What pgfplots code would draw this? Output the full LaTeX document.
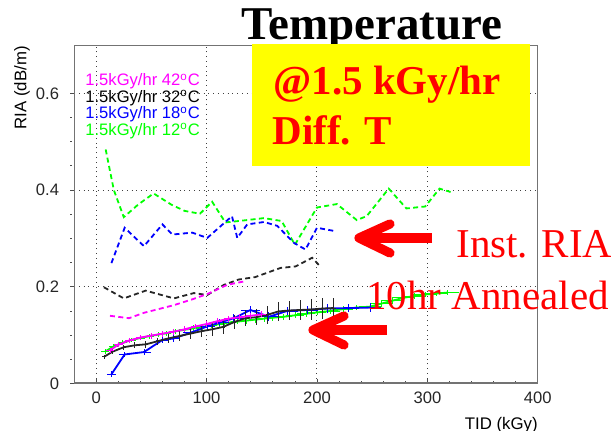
\documentclass[border=0pt]{standalone}
\usepackage{pgfplots}
\pgfplotsset{compat=1.18}
\usepackage{pgfplotstable}
\usepackage{fontspec}
\setmainfont{Liberation Sans}
\newfontfamily\timesf{Liberation Serif}

\definecolor{rgreen}{RGB}{0,255,0}
\definecolor{rblue}{RGB}{0,0,255}
\definecolor{rmag}{RGB}{255,0,255}
\definecolor{rred}{RGB}{255,0,0}
\definecolor{ryellow}{RGB}{255,255,0}

% instantaneous RIA (dashed)
\pgfplotstableread{
x y
8.6 0.484
16 0.400
25 0.344
38 0.370
52 0.393
68 0.370
80 0.357
94 0.351
105 0.376
117 0.333
133 0.337
152 0.342
168 0.336
180 0.287
200 0.364
218 0.371
236 0.338
245 0.346
265 0.403
281 0.362
298 0.366
311 0.403
321 0.396
}\greeninst

\pgfplotstableread{
x y
13.8 0.249
25.8 0.322
43.3 0.284
60 0.329
69 0.308
87 0.312
100.6 0.301
123 0.346
127.8 0.301
136.8 0.329
152 0.334
164 0.326
179 0.291
189.6 0.277
200 0.322
216.7 0.315
}\blueinst

\pgfplotstableread{
x y
7 0.199
25 0.176
44.8 0.192
70.4 0.176
88.5 0.187
100.6 0.183
115.7 0.204
129 0.215
144 0.220
167 0.239
180.5 0.242
195.6 0.260
203 0.242
}\blackinst

\pgfplotstableread{
x y
12.5 0.140
29.7 0.135
43 0.146
70.4 0.162
87 0.174
100.6 0.185
118.7 0.204
133.8 0.211
}\maginst

% 10 hr annealed (solid, with errors)
\pgfplotstableread{
x y ex ey
8 0.066 4 0.005
16 0.077 4 0.005
24 0.084 4 0.005
32 0.090 4 0.005
40 0.094 4 0.005
48 0.098 4 0.005
56 0.101 4 0.005
64 0.104 4 0.005
72 0.108 4 0.005
80 0.111 5 0.006
88 0.114 5 0.006
96 0.117 5 0.006
104 0.120 5 0.006
112 0.123 5 0.006
120 0.126 6 0.006
128 0.128 6 0.006
136 0.130 6 0.006
144 0.132 6 0.006
152 0.134 6 0.006
160 0.136 7 0.006
170 0.138 7 0.006
180 0.141 8 0.006
190 0.144 8 0.006
200 0.147 8 0.006
212 0.150 9 0.006
224 0.154 9 0.006
236 0.157 10 0.006
248 0.159 10 0.006
258 0.165 10 0.006
268 0.171 10 0.006
278 0.177 10 0.006
288 0.181 10 0.006
298 0.184 11 0.006
308 0.186 11 0.006
318 0.188 11 0.006
}\greenann

\pgfplotstableread{
x y ex ey
13.8 0.019 4 0.006
25.8 0.060 5 0.006
43.3 0.065 6 0.006
60 0.090 6 0.006
70 0.093 6 0.007
85.5 0.105 7 0.007
100.6 0.118 7 0.007
112 0.126 8 0.008
124.7 0.135 9 0.008
139.8 0.152 9 0.008
156.4 0.138 9 0.009
173 0.150 10 0.009
191 0.152 10 0.009
209 0.155 10 0.009
228 0.156 10 0.009
248 0.157 10 0.009
}\blueann

\pgfplotstableread{
x y ex ey
7 0.055 2 0.004
15 0.066 2 0.005
25 0.075 2 0.005
35 0.079 2 0.006
45 0.081 2 0.007
55 0.087 2 0.008
65 0.093 2 0.009
75 0.098 2 0.010
85 0.103 2 0.011
95 0.108 2 0.012
105 0.112 2 0.013
115 0.117 2 0.014
125 0.127 2 0.015
135 0.135 2 0.016
145 0.137 2 0.017
155 0.142 2 0.018
165 0.149 2 0.019
175 0.151 2 0.020
185 0.152 2 0.020
195 0.153 2 0.021
205 0.155 2 0.021
215 0.156 2 0.021
}\blackann

\pgfplotstableread{
x y ex ey
12.5 0.069 4 0.005
20 0.080 4 0.005
30 0.089 4 0.005
40 0.095 4 0.006
50 0.099 4 0.006
60 0.103 4 0.006
70 0.107 4 0.006
80 0.112 4 0.006
90 0.118 4 0.006
100 0.123 4 0.006
110 0.129 4 0.006
120 0.134 4 0.006
130 0.137 4 0.006
140 0.140 4 0.006
150 0.143 4 0.006
}\magann

\begin{document}
\begin{tikzpicture}
\useasboundingbox (0,0) rectangle (305.5pt,215.5pt);

% title, partly hidden by the yellow box
\begin{scope}[x=0.5pt,y=-0.5pt,yshift=215.5pt]
\node[anchor=base, inner sep=0] at (372,39.5) {\timesf\bfseries\fontsize{23.5}{26}\selectfont Temperature};
\end{scope}

\begin{axis}[
    scale only axis,
    width=231.85pt, height=169.25pt,
    at={(37.05pt,23.75pt)}, anchor=south west,
    xmin=-20, xmax=400, ymin=0, ymax=0.7,
    xtick={0,100,200,300,400},
    ytick={0,0.2,0.4,0.6},
    minor x tick num=4, minor y tick num=3,
    tick pos=left,
    tick align=inside,
    major tick length=2pt, minor tick length=1.2pt,
    y tick style={xshift=-2pt},
    every tick/.style={black!70, line width=0.4pt},
    grid=major,
    grid style={dotted, black!75, line width=0.5pt},
    axis line style={black!55, line width=0.5pt},
    tick label style={font=\fontsize{8.3}{10}\selectfont, text=black!85},
    /pgf/number format/assume math mode=true,
    yticklabel style={xshift=-4pt},
    xticklabel style={yshift=-0.5pt},
    error bars/error bar style={line width=0.4pt},
]
% instantaneous
\addplot[rgreen, line width=0.9pt, dash pattern=on 2.5pt off 1.7pt] table[x=x,y=y] {\greeninst};
\addplot[rblue, line width=0.9pt, dash pattern=on 2.5pt off 1.7pt] table[x=x,y=y] {\blueinst};
\addplot[black!85, line width=0.9pt, dash pattern=on 2.5pt off 1.7pt] table[x=x,y=y] {\blackinst};
\addplot[rmag, line width=0.9pt, dash pattern=on 2.5pt off 1.7pt] table[x=x,y=y] {\maginst};
% annealed
\addplot[rgreen, line width=0.9pt, mark=none,
    error bars/.cd, x dir=both, x explicit, y dir=both, y explicit, error mark=none]
    table[x=x,y=y,x error=ex,y error=ey] {\greenann};
\addplot[rblue, line width=0.9pt, mark=none,
    error bars/.cd, x dir=both, x explicit, y dir=both, y explicit, error mark=none]
    table[x=x,y=y,x error=ex,y error=ey] {\blueann};
\addplot[black!85, line width=0.9pt, mark=none,
    error bars/.cd, x dir=both, x explicit, y dir=both, y explicit, error mark=none]
    table[x=x,y=y,x error=ex,y error=ey] {\blackann};
\addplot[rmag, line width=0.9pt, mark=none,
    error bars/.cd, x dir=both, x explicit, y dir=both, y explicit, error mark=none]
    table[x=x,y=y,x error=ex,y error=ey] {\magann};
\draw[black!55, line width=1pt] (rel axis cs:0,1) -- (rel axis cs:0,0) -- (rel axis cs:1,0);
\end{axis}

\begin{scope}[x=0.5pt,y=-0.5pt,yshift=215.5pt]
% axis titles
\node[rotate=90, anchor=east, inner sep=0] at (22,46) {\fontsize{8.4}{10}\selectfont RIA (dB/m)};
\node[anchor=north east, inner sep=0] at (538,417) {\fontsize{8.4}{10}\selectfont TID (kGy)};
% legend text
\begin{scope}[every node/.style={anchor=base west, inner sep=0, font=\fontsize{8.3}{10}\selectfont}]
\node[text=rmag] at (85,86) {1.5kGy/hr 42\textsuperscript{o}C};
\node[text=black] at (85,102.5) {1.5kGy/hr 32\textsuperscript{o}C};
\node[text=rblue] at (85,119) {1.5kGy/hr 18\textsuperscript{o}C};
\node[text=rgreen] at (85,135.5) {1.5kGy/hr 12\textsuperscript{o}C};
\end{scope}
% yellow box
\fill[ryellow] (252,44) rectangle (530,166);
\node[anchor=base west, inner sep=0, text=rred] at (273,95) {\timesf\bfseries\fontsize{20.5}{24}\selectfont @1.5 kGy/hr};
\node[anchor=base west, inner sep=0, text=rred] at (272,145) {\timesf\bfseries\fontsize{20.5}{24}\selectfont Diff. T};
% arrows
\draw[rred, line width=4.6pt] (432,238) -- (362,238);
\draw[rred, line width=4.6pt, line cap=round, line join=round] (390,224) -- (359,238) -- (390,253);
\draw[rred, line width=4.6pt] (387,330) -- (317,330);
\draw[rred, line width=4.6pt, line cap=round, line join=round] (344,316) -- (313,330) -- (344,345);
% annotations
\node[anchor=base west, inner sep=0, text=rred] at (456,258) {\timesf\fontsize{20.5}{24}\selectfont Inst. RIA};
\node[anchor=base west, inner sep=0, text=rred] at (366,310) {\timesf\fontsize{20.5}{24}\selectfont 10hr Annealed};
\end{scope}
\end{tikzpicture}
\end{document}
